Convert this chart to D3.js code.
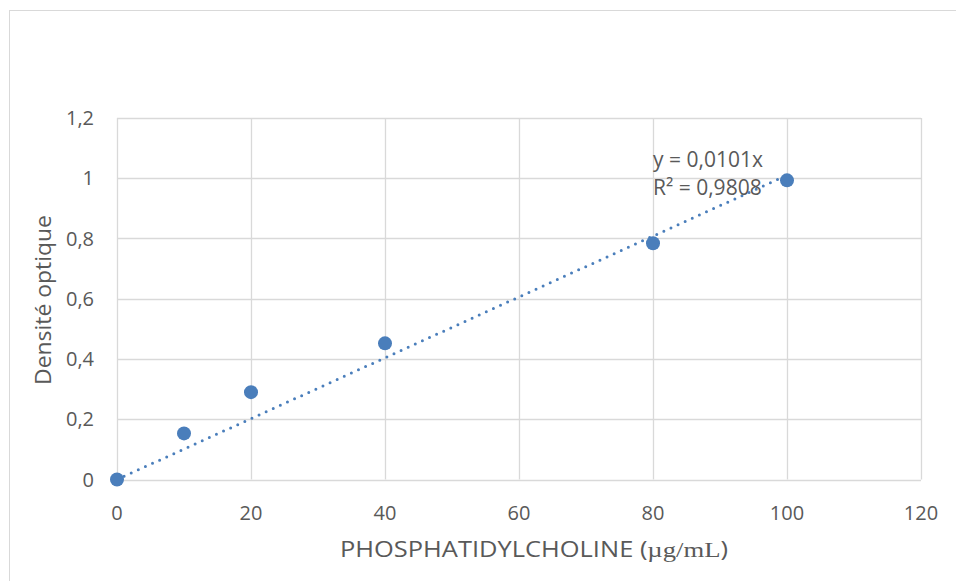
<!DOCTYPE html>
<html>
<head>
<meta charset="utf-8">
<script src="https://cdn.jsdelivr.net/npm/d3@7"></script>
<style>
  body { margin: 0; background: #fff; }
  text { font-family: "Open Sans", Lato, sans-serif; fill: #595959; }
</style>
</head>
<body>
<div id="chart"></div>
<script>
// data
let concentrations = [0, 10, 20, 40, 80, 100];
let densities = [0, 0.153, 0.29, 0.452, 0.784, 0.993];
let slope = 0.0101;
let xTicks = [0, 20, 40, 60, 80, 100, 120];
let yTicks = [0, 0.2, 0.4, 0.6, 0.8, 1, 1.2];
let equationLines = ["y = 0,0101x", "R² = 0,9808"];

let width = 956, height = 581;
let margin = { top: 118, right: 35, bottom: 101.5, left: 117 };
let blue = "#4a7ebb";

let svg = d3.select("#chart").append("svg")
	.attr("width", width)
	.attr("height", height);

// chart frame
svg.append("rect")
	.attr("x", 9.5).attr("y", 10.5)
	.attr("width", width).attr("height", height)
	.attr("fill", "none")
	.attr("stroke", "#d9d9d9");

let x = d3.scaleLinear().domain([0, 120]).range([margin.left, width - margin.right]);
let y = d3.scaleLinear().domain([0, 1.2]).range([height - margin.bottom, margin.top]);

let fmt = d => String(+d.toFixed(1)).replace(".", ",");

// grid
svg.append("g")
	.selectAll("line.h")
	.data(yTicks)
	.join("line")
	.attr("x1", x(0)).attr("x2", x(120))
	.attr("y1", d => Math.round(y(d)) + 0.5).attr("y2", d => Math.round(y(d)) + 0.5)
	.attr("stroke", "#d9d9d9").attr("stroke-width", 1.3);

svg.append("g")
	.selectAll("line.v")
	.data(xTicks)
	.join("line")
	.attr("x1", d => Math.round(x(d)) + 0.5).attr("x2", d => Math.round(x(d)) + 0.5)
	.attr("y1", y(0)).attr("y2", y(1.2))
	.attr("stroke", "#d9d9d9").attr("stroke-width", 1.3);

// tick labels
svg.append("g")
	.selectAll("text")
	.data(yTicks)
	.join("text")
	.attr("x", margin.left - 23)
	.attr("y", d => y(d) + 7)
	.attr("text-anchor", "end")
	.style("font-size", "20px")
	.text(fmt);

svg.append("g")
	.selectAll("text")
	.data(xTicks)
	.join("text")
	.attr("x", d => x(d))
	.attr("y", y(0) + 40)
	.attr("text-anchor", "middle")
	.style("font-size", "20px")
	.text(d => d);

// trend line
svg.append("line")
	.attr("x1", x(0)).attr("y1", y(0))
	.attr("x2", x(100)).attr("y2", y(slope * 100))
	.attr("stroke", blue)
	.attr("stroke-width", 3)
	.attr("stroke-linecap", "round")
	.attr("stroke-dasharray", "0 7.8");

// points
svg.append("g")
	.selectAll("circle")
	.data(concentrations)
	.join("circle")
	.attr("cx", d => x(d))
	.attr("cy", (d, i) => y(densities[i]))
	.attr("r", 7)
	.attr("fill", blue);

// equation label
svg.append("g")
	.selectAll("text")
	.data(equationLines)
	.join("text")
	.attr("x", 653)
	.attr("y", (d, i) => 167 + i * 28)
	.style("font-size", "21px")
	.text(d => d);

// axis titles
let xt = svg.append("text")
	.attr("x", 340)
	.attr("y", 557)
	.attr("textLength", 388)
	.attr("lengthAdjust", "spacingAndGlyphs")
	.style("font-size", "21px");
xt.append("tspan").text("PHOSPHATIDYLCHOLINE (");
xt.append("tspan").style("font-family", "'Liberation Serif', 'DejaVu Serif', serif").style("font-size", "22px").text("µg/mL");
xt.append("tspan").text(")");

svg.append("text")
	.attr("transform", `translate(51,385) rotate(-90)`)
	.attr("textLength", 170)
	.attr("lengthAdjust", "spacingAndGlyphs")
	.style("font-size", "21px")
	.text("Densité optique");
</script>
</body>
</html>
